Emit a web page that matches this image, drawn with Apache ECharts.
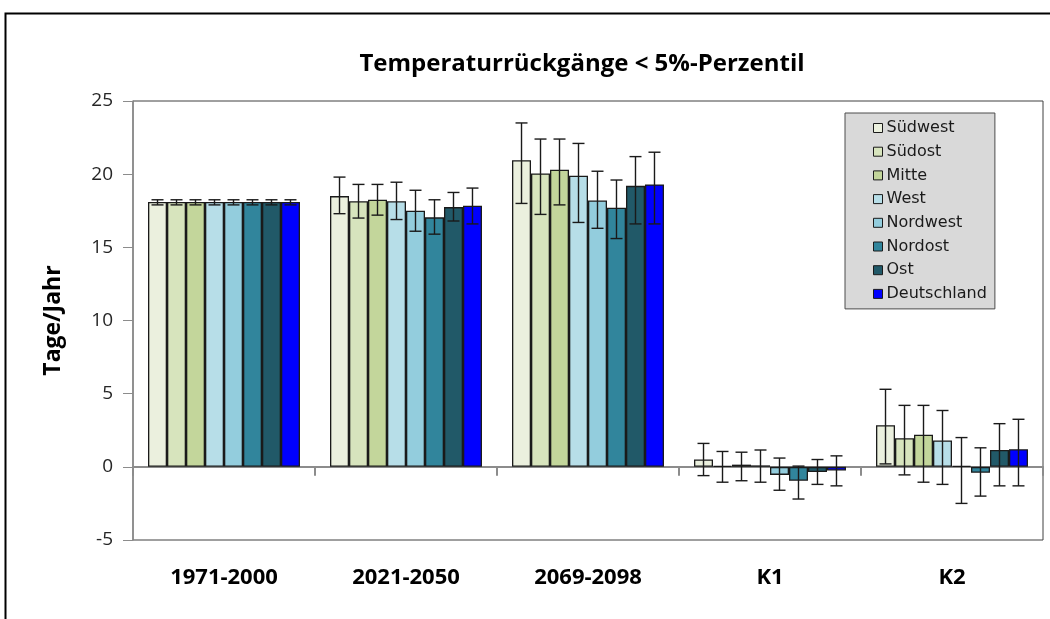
<!DOCTYPE html>
<html>
<head>
<meta charset="utf-8">
<script src="https://cdn.jsdelivr.net/npm/echarts@6/dist/echarts.min.js"></script>
<style>
    html, body { margin: 0; padding: 0; background: #fff; }
    #chart_con { width: 1050px; height: 619px; }
</style>
</head>
<body>
<div id="chart_con"></div>
<script>
// Zeiträume / Kategorien
const categories = ['1971-2000', '2021-2050', '2069-2098', 'K1', 'K2'];
const regions = ['Südwest', 'Südost', 'Mitte', 'West', 'Nordwest', 'Nordost', 'Ost', 'Deutschland'];
const regionColors = ['#ebf0de', '#d7e4bd', '#c3d69b', '#b7dee8', '#93cddd', '#31859c', '#215968', '#0000ff'];
const yTicks = [-5, 0, 5, 10, 15, 20, 25];

// Mittelwerte je Region (Tage/Jahr), pro Kategorie
const suedwest    = [18.1, 18.5, 20.95, 0.5, 2.85];
const suedost     = [18.1, 18.15, 20.05, 0.05, 1.95];
const mitte       = [18.1, 18.25, 20.3, 0.15, 2.2];
const west        = [18.1, 18.15, 19.9, 0.1, 1.8];
const nordwest    = [18.1, 17.5, 18.2, -0.55, 0.05];
const nordost     = [18.1, 17.05, 17.7, -0.95, -0.4];
const ost         = [18.1, 17.75, 19.2, -0.35, 1.15];
const deutschland = [18.1, 17.85, 19.3, -0.25, 1.2];

// Fehlerbalken: obere / untere Grenze
const suedwestHi    = [18.25, 19.8, 23.5, 1.6, 5.3];
const suedwestLo    = [17.9, 17.3, 18.0, -0.6, 0.2];
const suedostHi     = [18.25, 19.3, 22.4, 1.05, 4.2];
const suedostLo     = [17.9, 17.0, 17.25, -1.05, -0.55];
const mitteHi       = [18.25, 19.3, 22.4, 1.0, 4.2];
const mitteLo       = [17.9, 17.2, 17.9, -0.95, -1.05];
const westHi        = [18.25, 19.45, 22.1, 1.15, 3.85];
const westLo        = [17.9, 16.9, 16.7, -1.05, -1.2];
const nordwestHi    = [18.25, 18.9, 20.2, 0.6, 2.0];
const nordwestLo    = [17.9, 16.1, 16.3, -1.6, -2.5];
const nordostHi     = [18.25, 18.25, 19.6, 0.05, 1.3];
const nordostLo     = [17.9, 15.9, 15.6, -2.2, -2.0];
const ostHi         = [18.25, 18.75, 21.2, 0.5, 2.95];
const ostLo         = [17.9, 16.8, 16.6, -1.2, -1.3];
const deutschlandHi = [18.25, 19.05, 21.5, 0.75, 3.25];
const deutschlandLo = [17.9, 16.6, 16.6, -1.3, -1.3];

const values = [suedwest, suedost, mitte, west, nordwest, nordost, ost, deutschland];
const highs = [suedwestHi, suedostHi, mitteHi, westHi, nordwestHi, nordostHi, ostHi, deutschlandHi];
const lows = [suedwestLo, suedostLo, mitteLo, westLo, nordwestLo, nordostLo, ostLo, deutschlandLo];

const gapRatio = 0.165;
const font = 'Open Sans';

let errData = [];
for (let s = 0; s < regions.length; s++) {
    for (let c = 0; c < categories.length; c++) {
        errData.push([c, lows[s][c], highs[s][c], s]);
    }
}

let series = regions.map(function (name, i) {
    return {
        name: name,
        type: 'bar',
        xAxisIndex: 0,
        barGap: 0,
        barCategoryGap: (gapRatio * 100) + '%',
        itemStyle: {color: regionColors[i], borderColor: '#1a1a1a', borderWidth: 1.3},
        emphasis: {disabled: true},
        data: values[i]
    };
});

// Fehlerbalken über den Säulen
series.push({
    name: 'Fehler',
    type: 'custom',
    xAxisIndex: 0,
    z: 10,
    silent: true,
    data: errData,
    renderItem: function (params, api) {
        const cat = api.value(0);
        const lo = api.coord([cat, api.value(1)]);
        const hi = api.coord([cat, api.value(2)]);
        const band = api.size([1, 0])[0];
        const total = band * (1 - gapRatio);
        const bw = total / regions.length;
        const x = lo[0] - total / 2 + bw * (api.value(3) + 0.5);
        const cap = 6;
        const style = {stroke: '#1a1a1a', lineWidth: 1.4};
        return {
            type: 'group',
            children: [
                {type: 'line', shape: {x1: x, y1: lo[1], x2: x, y2: hi[1]}, style: style},
                {type: 'line', shape: {x1: x - cap, y1: lo[1], x2: x + cap, y2: lo[1]}, style: style},
                {type: 'line', shape: {x1: x - cap, y1: hi[1], x2: x + cap, y2: hi[1]}, style: style}
            ]
        };
    }
});

const chart = echarts.init(document.getElementById('chart_con'));
const option = {
    animation: false,
    textStyle: {fontFamily: font},
    graphic: [{
        type: 'rect',
        left: 3, top: 11,
        shape: {width: 1200, height: 800},
        style: {fill: 'none', stroke: '#000', lineWidth: 2},
        silent: true
    }],
    title: {
        text: 'Temperaturrückgänge < 5%-Perzentil',
        left: 577, top: 47,
        textAlign: 'center',
        textStyle: {fontFamily: font, fontSize: 24, fontWeight: 'bold', color: '#000'}
    },
    legend: {
        orient: 'vertical',
        left: 845, top: 113,
        data: regions,
        backgroundColor: '#d9d9d9',
        borderColor: '#4d4d4d',
        borderWidth: 1,
        padding: [7, 8, 7, 28],
        itemWidth: 9, itemHeight: 9,
        itemGap: 7.7,
        icon: 'rect',
        itemStyle: {borderColor: '#1a1a1a', borderWidth: 1},
        textStyle: {fontFamily: 'DejaVu Sans', fontSize: 16, color: '#1a1a1a', padding: [0, 0, 0, -1]}
    },
    grid: {
        left: 133, top: 101, right: 7, bottom: 79,
        show: true,
        borderColor: '#404040',
        borderWidth: 1
    },
    xAxis: [
        {
            type: 'category',
            data: categories,
            axisLine: {onZero: true, lineStyle: {color: '#8c8c8c', width: 2}},
            axisTick: {show: true, length: 9, lineStyle: {color: '#8c8c8c', width: 2}},
            axisLabel: {show: false},
            splitLine: {show: false}
        },
        {
            type: 'category',
            position: 'bottom',
            data: categories,
            axisLine: {show: false},
            axisTick: {show: false},
            axisLabel: {margin: 27, fontFamily: font, fontSize: 22, fontWeight: 'bold', color: '#000'},
            splitLine: {show: false}
        }
    ],
    yAxis: {
        type: 'value',
        min: yTicks[0],
        max: yTicks[yTicks.length - 1],
        interval: 5,
        name: 'Tage/Jahr',
        nameLocation: 'middle',
        nameGap: 68,
        nameTextStyle: {fontFamily: font, fontSize: 23, fontWeight: 'bold', color: '#000'},
        axisLine: {show: true, lineStyle: {color: '#8c8c8c', width: 1.5}},
        axisTick: {show: true, length: 10, lineStyle: {color: '#8c8c8c'}},
        axisLabel: {margin: 20, fontFamily: font, fontSize: 19, color: '#262626'},
        splitLine: {show: false}
    },
    series: series
};
chart.setOption(option);
</script>
</body>
</html>
